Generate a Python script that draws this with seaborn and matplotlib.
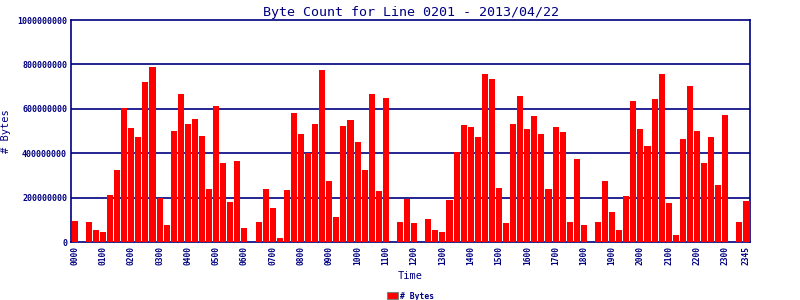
import numpy as np
import pandas as pd
import matplotlib
matplotlib.use("Agg")
import matplotlib.pyplot as plt
import seaborn as sns

# 15-minute slots over the day
times = [f"{h:02d}{m:02d}" for h in range(24) for m in (0, 15, 30, 45)]

# bytes per slot (in millions)
bytes_m = [
    96, 0, 92, 56, 47, 213, 326, 605, 515, 474, 722, 790,
    200, 78, 501, 668, 533, 556, 479, 240, 614, 357, 182, 366,
    65, 0, 92, 240, 155, 20, 236, 583, 488, 402, 533, 776,
    276, 114, 524, 551, 452, 326, 668, 231, 650, 0, 92, 195,
    87, 0, 105, 56, 47, 191, 407, 529, 520, 474, 758, 736,
    245, 87, 533, 659, 511, 569, 488, 240, 520, 497, 92, 375,
    78, 0, 92, 276, 137, 56, 209, 637, 511, 434, 646, 758,
    177, 33, 465, 704, 501, 357, 474, 258, 574, 0, 92, 186,
]

df = pd.DataFrame({"Time": times, "Bytes": np.array(bytes_m) * 1e6})

navy = "#000080"
mono = "DejaVu Sans Mono"

sns.set_style("white")
plt.rcParams["font.family"] = [mono, "DejaVu Sans"]

fig = plt.figure(figsize=(8, 3), dpi=100)
ax = fig.add_axes([0.089, 0.193, 0.8485, 0.74])

sns.barplot(data=df, x="Time", y="Bytes", color="#ff0000", width=0.86,
            saturation=1, linewidth=0, ax=ax, zorder=3)

ax.set_xlim(-0.5, len(times) - 0.5)
ax.set_ylim(0, 1e9)
yt = np.arange(0, 1e9 + 1, 2e8)
ax.set_yticks(yt)
ax.set_yticklabels([f"{int(v)}" for v in yt], fontsize=6, fontweight="bold",
                   color=navy)
for v in yt[1:-1]:
    ax.axhline(v, color=navy, lw=1.2, zorder=1)

tick_pos = [i for i, t in enumerate(times) if t.endswith("00")] + [len(times) - 1]
ax.set_xticks(tick_pos)
ax.set_xticklabels([times[i] for i in tick_pos], rotation=90, fontsize=5.7,
                   fontweight="bold", color=navy)
ax.tick_params(axis="both", length=0, pad=3)

for s in ax.spines.values():
    s.set_color(navy)
    s.set_linewidth(1.2)

ax.set_xlabel("Time", color=navy, fontsize=7.5, labelpad=4)
ax.set_ylabel("# Bytes", color=navy, fontsize=7.5, labelpad=4)
ax.set_title("Byte Count for Line 0201 - 2013/04/22", color=navy,
             fontsize=9.6, pad=3)

handle = plt.Rectangle((0, 0), 1, 1, facecolor="#ff0000", edgecolor="#808080",
                       linewidth=0.8)
leg = ax.legend([handle], ["# Bytes"], loc="upper center",
                bbox_to_anchor=(0.5, -0.205), frameon=False,
                prop={"family": mono, "size": 5.8, "weight": "bold"},
                handlelength=1.3, handleheight=1.0, handletextpad=0.3,
                borderpad=0)
for t in leg.get_texts():
    t.set_color(navy)

fig.savefig("out.png", dpi=100, facecolor="white")
